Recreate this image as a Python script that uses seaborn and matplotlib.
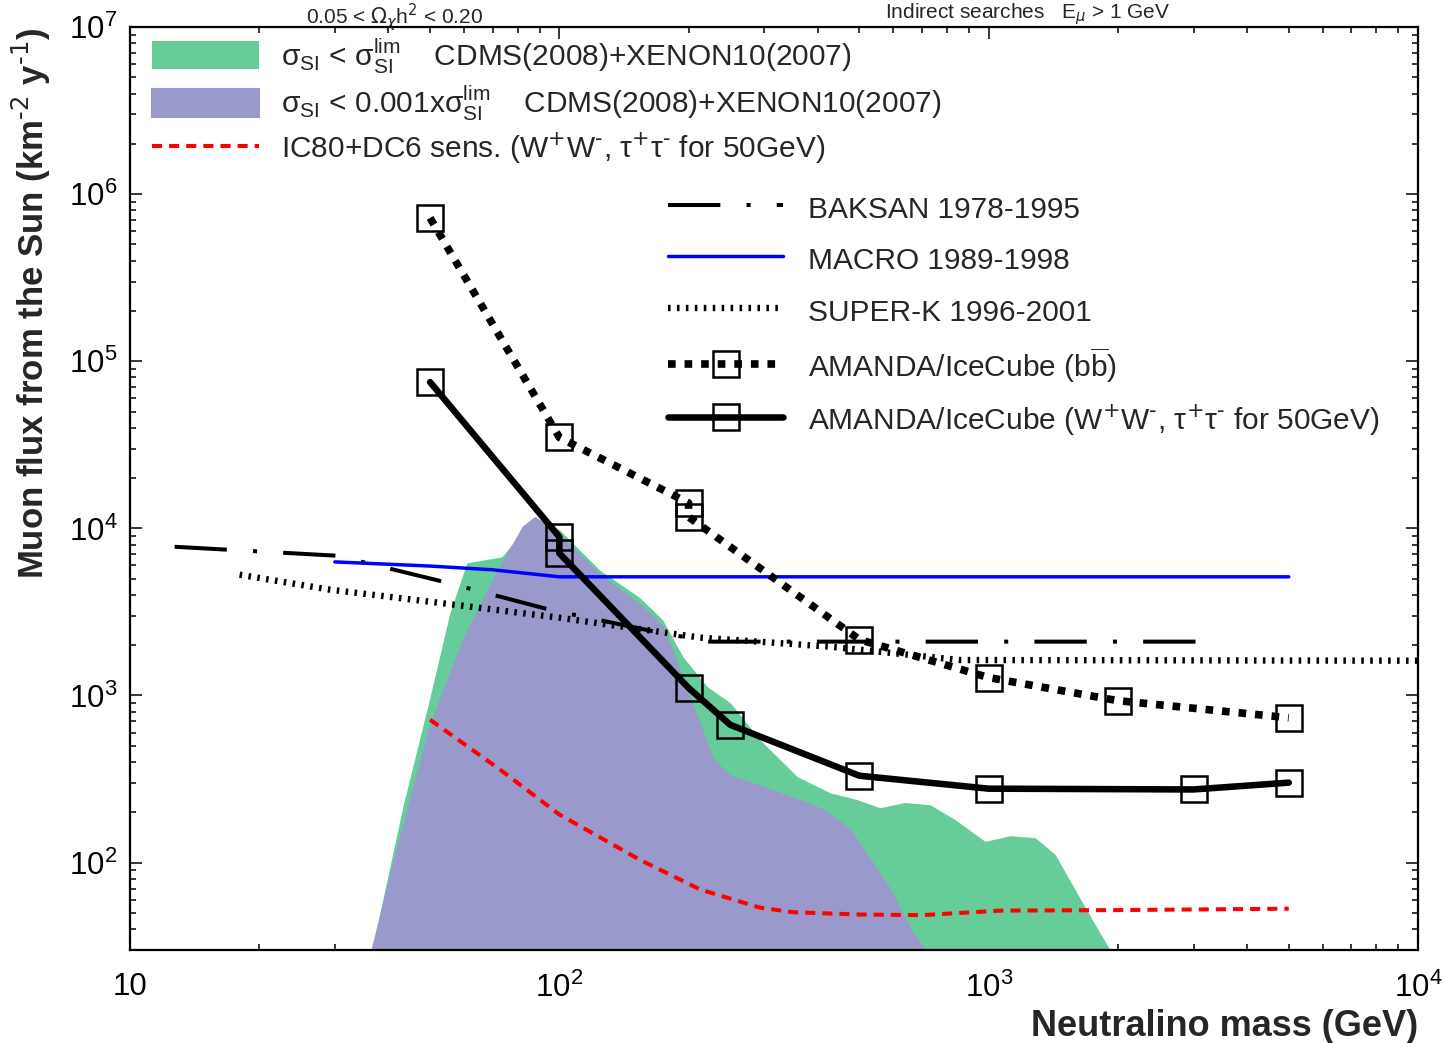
import math
import matplotlib
matplotlib.use('Agg')
import matplotlib.pyplot as plt
import matplotlib.ticker as mticker
import seaborn as sns

sns.set_theme(style='ticks')
plt.rcParams['font.family'] = ['Liberation Sans', 'DejaVu Sans']
plt.rcParams['axes.linewidth'] = 1.6

GREEN = '#66cc99'
PURPLE = '#9999cc'
FLOOR = 30

# MSSM scan, upper edge of the allowed regions
green_mass = [10, 36.6, 43.2, 50, 55.6, 60.9, 73.5, 80.9, 87.7, 100, 124, 154, 174, 194, 221, 250,
              293, 358, 427, 494, 558, 638, 730, 835, 981, 1122, 1283, 1428, 1589, 1770, 1918, 10000]
green_flux = [30, 30, 216, 984, 3126, 6220, 6760, 9160, 11600, 9810, 5650, 3846, 2840, 1706, 1130, 906,
              545, 327, 262, 238, 213, 229, 222, 181, 134, 145, 141, 112, 69, 42.6, 30, 30]
purple_mass = [10, 36.6, 41.9, 50, 59.7, 71.6, 82.3, 87.7, 100, 124, 154, 174, 198, 228, 250, 278,
               358, 411, 475, 529, 589, 656, 711, 10000]
purple_flux = [30, 30, 120, 650, 2157, 5420, 10200, 11600, 9160, 5270, 3490, 2580, 1083, 413, 327, 301,
               238, 207, 157, 104, 69, 39.7, 30, 30]

# experimental limits / sensitivities
ic80_mass = [50, 72.8, 100, 154, 213, 293, 350, 501, 700, 1064, 2000, 5000]
ic80_flux = [716, 360, 194, 104, 69, 53.8, 50.5, 48.9, 48.5, 51.6, 52, 53]
baksan_mass = [12.7, 30.3, 53.6, 95, 167, 224, 3190]
baksan_flux = [7760, 6860, 4800, 3260, 2410, 2100, 2100]
macro_mass = [30, 50, 70, 100, 5000]
macro_flux = [6300, 5950, 5650, 5130, 5130]
superk_mass = [18, 29.2, 50, 100, 213, 427, 857, 10000]
superk_flux = [5280, 4300, 3640, 2920, 2220, 1960, 1630, 1615]
amanda_bb_mass = [50, 100, 200, 200, 500, 1000, 2000, 5000]
amanda_bb_flux = [7.2e5, 3.5e4, 1.42e4, 1.17e4, 2160, 1280, 931, 736]
amanda_ww_mass = [50, 100, 100, 200, 250, 500, 1000, 3000, 5000]
amanda_ww_flux = [7.5e4, 8900, 7100, 1110, 668, 331, 277, 274, 301]

WW = r'(W$^{\text{+}}$W$^{\text{-}}$, τ$^{\text{+}}$τ$^{\text{-}}$ for 50GeV)'

fig = plt.figure(figsize=(14.44, 10.43), dpi=100)
ax = fig.add_axes([130 / 1444, 93 / 1043, 1288 / 1444, 923 / 1043])
ax.set_xscale('log')
ax.set_yscale('log')

ax.fill_between(green_mass, FLOOR, green_flux, color=GREEN, lw=0, zorder=1,
                label=r'σ$_{\mathregular{SI}}$ < σ$^{\mathregular{lim}}_{\mathregular{SI}}$    CDMS(2008)+XENON10(2007)')
ax.fill_between(purple_mass, FLOOR, purple_flux, facecolor=PURPLE, edgecolor=PURPLE, lw=1.5, zorder=1,
                label=r'σ$_{\mathregular{SI}}$ < 0.001xσ$^{\mathregular{lim}}_{\mathregular{SI}}$    CDMS(2008)+XENON10(2007)')

sq = dict(marker='s', markersize=18.5, markerfacecolor='none', markeredgecolor='black', markeredgewidth=1.8)

sns.lineplot(x=ic80_mass, y=ic80_flux, ax=ax, color='red', lw=2.9, linestyle=(0, (2.5, 1.75)),
             estimator=None, sort=False, zorder=3, label='IC80+DC6 sens. ' + WW)
sns.lineplot(x=baksan_mass, y=baksan_flux, ax=ax, color='black', lw=2.9, linestyle=(0, (13, 6.5, 1, 6.5)),
             estimator=None, sort=False, zorder=3, label='BAKSAN 1978-1995')
sns.lineplot(x=macro_mass, y=macro_flux, ax=ax, color='#0000ff', lw=2.5,
             estimator=None, sort=False, zorder=3, label='MACRO 1989-1998')
sns.lineplot(x=superk_mass, y=superk_flux, ax=ax, color='black', lw=4.6, linestyle=(0, (0.4, 1.0)),
             estimator=None, sort=False, zorder=3, label='SUPER-K 1996-2001')
sns.lineplot(x=amanda_bb_mass, y=amanda_bb_flux, ax=ax, color='black', lw=5.5, linestyle=(0, (1, 1.17)),
             estimator=None, sort=False, zorder=4, label=r'AMANDA/IceCube (b$\overline{\mathregular{b}}$)', **sq)
sns.lineplot(x=amanda_ww_mass, y=amanda_ww_flux, ax=ax, color='black', lw=4.7,
             estimator=None, sort=False, zorder=4, label='AMANDA/IceCube ' + WW, **sq)

ax.set_xlim(10, 1e4)
ax.set_ylim(FLOOR, 1e7)


def decade_fmt(v, pos):
    if abs(v - 10) < 1e-6:
        return '10'
    return r'$\mathregular{10^{%d}}$' % round(math.log10(v))


ax.xaxis.set_major_locator(mticker.FixedLocator([10, 100, 1000, 10000]))
ax.yaxis.set_major_locator(mticker.FixedLocator([1e2, 1e3, 1e4, 1e5, 1e6, 1e7]))
ax.xaxis.set_major_formatter(mticker.FuncFormatter(decade_fmt))
ax.yaxis.set_major_formatter(mticker.FuncFormatter(decade_fmt))
ax.xaxis.set_minor_locator(mticker.LogLocator(subs=range(2, 10), numticks=20))
ax.yaxis.set_minor_locator(mticker.LogLocator(subs=range(2, 10), numticks=20))
ax.xaxis.set_minor_formatter(mticker.NullFormatter())
ax.yaxis.set_minor_formatter(mticker.NullFormatter())
ax.tick_params(which='both', direction='in', top=True, right=True, width=1.1, colors='black')
ax.tick_params(which='major', length=8.6)
ax.tick_params(which='minor', length=4.3)
ax.tick_params(axis='x', which='major', labelsize=22.5, pad=16)
ax.tick_params(axis='y', which='major', labelsize=22.5, pad=9)
for s in ax.spines.values():
    s.set_color('black')
    s.set_zorder(6)

ax.set_xlabel('Neutralino mass (GeV)', fontsize=26, fontweight='bold', loc='right')
ax.xaxis.set_label_coords(1.0, -0.064)
ax.set_ylabel(r'Muon flux from the Sun (km$^{\text{-2}}$ y$^{\text{-1}}$)',
              fontsize=25, fontweight='bold', loc='top')
ax.yaxis.set_label_coords(-0.060, 1.0)

handles, labels = ax.get_legend_handles_labels()
hmap = dict(zip(labels, handles))
first = labels[:3]
second = labels[3:]

leg1 = ax.legend([hmap[l] for l in first], first, loc='upper left', bbox_to_anchor=(0.017, 0.990),
                 frameon=False, fontsize=21.5, handlelength=3.6, handleheight=1.07, handletextpad=0.73,
                 labelspacing=0.25, borderpad=0, borderaxespad=0)
ax.add_artist(leg1)
ax.legend([hmap[l] for l in second], second, loc='upper left', bbox_to_anchor=(0.418, 0.822),
          frameon=False, fontsize=21.5, handlelength=3.85, handleheight=1.35, handletextpad=0.84,
          labelspacing=0.6, borderpad=0, borderaxespad=0, numpoints=1)

# panel headers in the top margin
fig.text(395 / 1444, 1 - 1 / 1043, r'0.05 < $\Omega_{\chi}$h$^2$ < 0.20', ha='center', va='top', fontsize=15)
fig.text(885 / 1444, 1 - 1 / 1043, r'Indirect searches   E$_{\mu}$ > 1 GeV', ha='left', va='top', fontsize=15)

fig.savefig('out.png', dpi=100)
